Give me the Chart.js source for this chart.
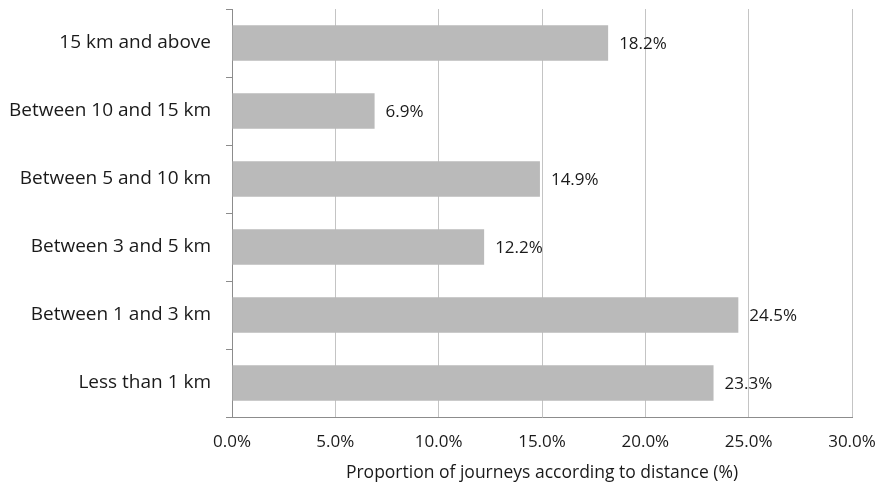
<!DOCTYPE html>
<html lang="en">
<head>
<meta charset="UTF-8">
<title>Journeys by distance</title>
<style>
  html, body { margin: 0; padding: 0; background: #fff; }
  #wrap { width: 881px; height: 489px; position: relative; }
</style>
</head>
<body>
<div id="wrap"><canvas id="myChart"></canvas></div>
<script src="https://cdn.jsdelivr.net/npm/chart.js"></script>
<script>
  // data
  const categorias = ['15 km and above', 'Between 10 and 15 km', 'Between 5 and 10 km',
                      'Between 3 and 5 km', 'Between 1 and 3 km', 'Less than 1 km'];
  const valores = [18.2, 6.9, 14.9, 12.2, 24.5, 23.3];
  const xMin = 0, xMax = 30, xPasso = 5;
  const tituloX = 'Proportion of journeys according to distance (%)';

  const fonte = 'Open Sans';

  // labels at the end of each bar
  const rotulos = {
    id: 'rotulos',
    afterDatasetsDraw(chart) {
      const ctx = chart.ctx;
      const meta = chart.getDatasetMeta(0);
      ctx.save();
      ctx.font = '17px "' + fonte + '"';
      ctx.fillStyle = '#1a1a1a';
      ctx.textAlign = 'left';
      ctx.textBaseline = 'middle';
      meta.data.forEach(function (bar, i) {
        ctx.fillText(valores[i].toFixed(1) + '%', bar.x + 11, bar.y + 1);
      });
      ctx.restore();
    }
  };

  new Chart(document.getElementById('myChart'), {
    type: 'bar',
    data: {
      labels: categorias,
      datasets: [{
        data: valores,
        backgroundColor: '#bababa',
        borderWidth: 0,
        barPercentage: 0.52,
        categoryPercentage: 1
      }]
    },
    options: {
      indexAxis: 'y',
      responsive: true,
      maintainAspectRatio: false,
      animation: false,
      layout: { padding: { top: 9, right: 29, bottom: 0, left: 0 } },
      plugins: { legend: { display: false }, tooltip: { enabled: false } },
      scales: {
        x: {
          min: xMin,
          max: xMax,
          ticks: {
            stepSize: xPasso,
            color: '#1a1a1a',
            font: { family: fonte, size: 17 },
            padding: 15,
            callback: function (v) { return v.toFixed(1) + '%'; }
          },
          grid: { color: '#c4c4c4', lineWidth: 1, drawTicks: false },
          border: { color: '#8c8c8c', width: 1 },
          title: {
            display: true,
            text: tituloX,
            color: '#1a1a1a',
            font: { family: fonte, size: 17.5 },
            padding: { top: 4, bottom: 5 }
          },
          afterFit: function (s) {
            s.height = 72;
            s.paddingLeft = 0;
            s.paddingRight = 0;
          }
        },
        y: {
          ticks: {
            color: '#1a1a1a',
            font: { family: fonte, size: 19 },
            padding: 15
          },
          grid: { drawOnChartArea: false, color: '#8c8c8c', tickLength: 6, offset: true },
          border: { color: '#8c8c8c', width: 1 },
          afterFit: function (s) {
            s.width = 232;
            s.paddingTop = 0;
            s.paddingBottom = 0;
          }
        }
      }
    },
    plugins: [rotulos]
  });
</script>
</body>
</html>
